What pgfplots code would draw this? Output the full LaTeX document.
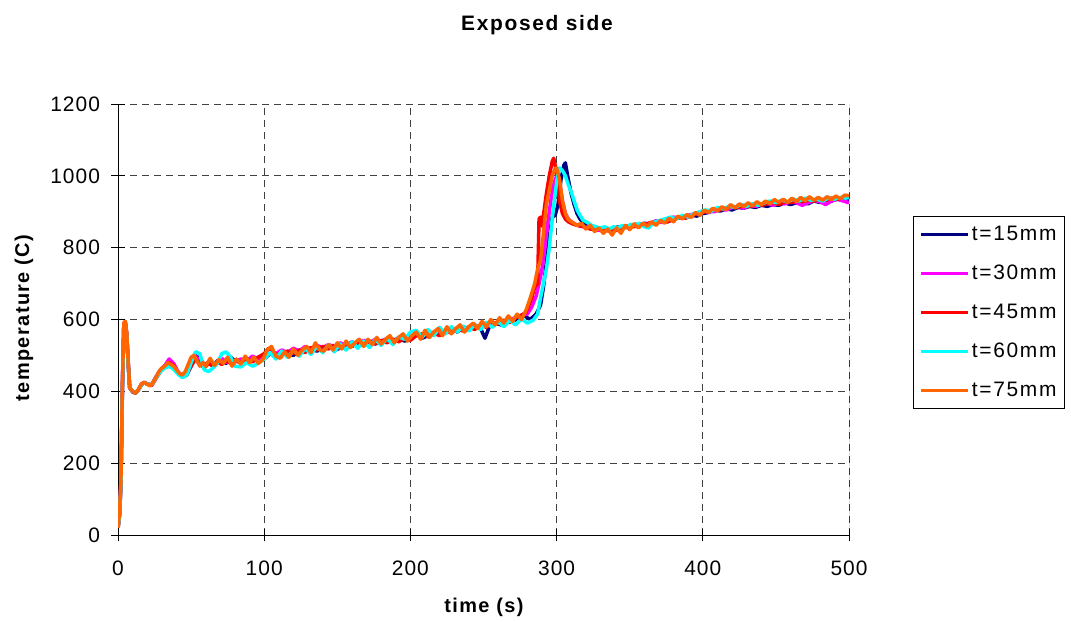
\documentclass[border=0pt]{standalone}
\usepackage{fontspec}
\setmainfont{Liberation Sans}
\usepackage{pgfplots}
\pgfplotsset{compat=1.18}
\definecolor{s15}{HTML}{000080}
\definecolor{s30}{HTML}{FF00FF}
\definecolor{s45}{HTML}{FF0000}
\definecolor{s60}{HTML}{00FFFF}
\definecolor{s75}{HTML}{FF6600}
\newcommand{\tickfont}{\fontsize{21}{25}\selectfont\addfontfeatures{LetterSpace=5}}
\begin{document}
\begin{tikzpicture}
\path[use as bounding box] (0,0) rectangle (1071bp,622bp);
\begin{axis}[at={(118bp,87bp)},anchor=south west,scale only axis,
  width=731bp,height=431bp,
  xmin=0,xmax=500,ymin=0,ymax=1200,
  xtick={0,100,...,500},ytick={0,200,...,1200},
  axis x line*=bottom,axis y line*=left,axis line style={-,black,line width=0.9bp},
  tick align=center,major tick length=13bp,tick style={black,line width=0.8bp},
  grid=major,major grid style={black!75,line width=0.8bp,dash pattern=on 7bp off 5bp},
  /pgf/number format/assume math mode=true,
  /pgf/number format/1000 sep={},
  tick label style={font=\tickfont},
  xticklabel style={yshift=-16bp},
  yticklabel style={xshift=-8bp},
  every axis plot/.append style={line width=3.5bp,line join=round},
  legend style={at={(1.0876,0.740)},anchor=north west,draw=black,line width=0.8bp,
    font=\fontsize{21}{25}\selectfont\addfontfeatures{LetterSpace=8},
    inner xsep=6bp,inner ysep=8bp,row sep=19bp,
    cells={anchor=west}},
  legend image code/.code={\draw[#1,line width=3.5bp] (0bp,0bp) -- (47bp,0bp);},
  legend cell align=left]
% t=15mm
\addplot[s15] coordinates {(0,20) (1,50) (2,140) (3,400) (4,585) (5,590) (6,555) (7,475) (8,410) (10,398) (12,395) (14,405) (16,418) (18,425) (20,420) (23,418) (26,440) (29,458) (32,468) (35,470) (38,465) (41,450) (44,440) (47,445) (50,470) (53,500) (56,490) (59,475) (62,480) (65,470) (68,485) (71,490) (74,478) (77,495) (80,485) (84,480) (88,492) (92,485) (96,495) (100,490) (104,505) (108,500) (112,510) (116,505) (120,500) (124,515) (128,510) (132,520) (136,512) (140,518) (144,525) (148,515) (152,520) (156,530) (160,525) (164,535) (168,528) (172,538) (176,532) (180,540) (184,545) (188,535) (192,548) (196,540) (200,545) (204,560) (208,548) (212,555) (216,565) (220,558) (224,568) (228,575) (232,565) (236,578) (240,572) (244,585) (248,575) (251,548) (254,580) (258,590) (262,585) (266,600) (270,595) (274,605) (278,610) (282,600) (286,615) (289,640) (291,690) (293,760) (295,830) (297,885) (299,890) (301,920) (303,990) (305,1030) (306,1036) (308,990) (310,950) (312,920) (314,895) (316,880) (318,870) (321,862) (324,858) (327,852) (330,848) (333,855) (336,850) (339,852) (342,858) (345,852) (348,860) (351,858) (354,865) (357,862) (360,868) (364,865) (368,870) (372,875) (376,872) (380,880) (384,885) (388,882) (392,890) (396,888) (400,895) (404,898) (408,905) (412,902) (416,908) (420,905) (424,912) (428,910) (432,915) (436,912) (440,918) (444,915) (448,920) (452,918) (456,925) (460,920) (464,925) (468,928) (472,922) (476,930) (480,926) (484,932) (488,930) (492,935) (496,932) (500,930)};
\addlegendentry{t=15mm}
% t=30mm
\addplot[s30] coordinates {(0,20) (1,55) (2,145) (3,410) (4,588) (5,592) (6,558) (7,478) (8,410) (10,400) (12,396) (14,404) (16,420) (18,424) (20,420) (23,417) (26,438) (29,460) (32,472) (35,490) (38,478) (41,455) (44,440) (47,448) (50,475) (53,498) (56,485) (59,470) (62,482) (65,475) (68,480) (71,492) (74,480) (77,488) (80,482) (84,490) (88,485) (92,498) (96,490) (100,500) (104,510) (108,505) (112,515) (116,508) (120,520) (124,512) (128,525) (132,518) (136,528) (140,522) (144,530) (148,525) (152,535) (156,528) (160,538) (164,530) (168,542) (172,535) (176,545) (180,538) (184,548) (188,540) (192,550) (196,545) (200,552) (204,558) (208,552) (212,568) (216,560) (220,570) (224,562) (228,575) (232,568) (236,580) (240,575) (244,585) (248,578) (252,590) (256,585) (260,595) (264,590) (268,600) (272,605) (276,612) (280,615) (283,635) (286,665) (288,700) (290,740) (292,800) (294,870) (296,930) (298,975) (300,1000) (302,985) (304,930) (306,895) (308,880) (310,872) (313,865) (316,860) (319,858) (322,855) (325,852) (328,848) (331,852) (334,848) (337,845) (340,852) (343,850) (346,858) (349,855) (352,862) (356,860) (360,866) (364,868) (368,875) (372,870) (376,880) (380,885) (384,882) (388,888) (392,892) (396,895) (400,898) (404,902) (408,900) (412,908) (416,905) (420,912) (424,915) (428,910) (432,918) (436,915) (440,920) (444,924) (448,918) (452,925) (456,922) (460,928) (464,925) (468,918) (472,925) (476,932) (480,928) (484,920) (488,930) (492,935) (496,930) (500,925)};
\addlegendentry{t=30mm}
% t=45mm
\addplot[s45] coordinates {(0,20) (1,55) (2,150) (3,415) (4,590) (5,594) (6,560) (7,478) (8,410) (10,400) (12,396) (14,404) (16,420) (18,425) (20,420) (23,416) (26,436) (29,455) (32,470) (35,480) (38,472) (41,452) (44,445) (47,450) (50,470) (53,490) (56,478) (59,465) (62,478) (65,470) (68,482) (71,475) (74,485) (77,478) (80,488) (84,480) (88,490) (92,482) (96,495) (100,505) (103,520) (106,510) (109,500) (112,505) (116,512) (120,505) (124,515) (128,508) (132,522) (136,515) (140,525) (144,518) (148,528) (152,520) (156,532) (160,525) (164,535) (168,528) (172,540) (176,532) (180,542) (184,535) (188,545) (192,538) (196,548) (200,542) (204,555) (208,560) (212,552) (216,562) (220,555) (224,570) (228,562) (232,575) (236,568) (240,580) (244,572) (248,585) (252,578) (256,592) (260,588) (264,598) (268,592) (272,605) (276,612) (279,620) (281,640) (283,660) (285,690) (287,700) (288,880) (289,885) (290,860) (291,890) (293,950) (295,1000) (297,1040) (298,1049) (300,1010) (302,930) (304,895) (306,880) (308,872) (311,866) (314,862) (317,860) (320,856) (323,852) (326,850) (329,855) (332,850) (335,848) (338,852) (341,848) (344,855) (347,858) (350,862) (353,858) (356,865) (360,862) (364,870) (368,868) (372,875) (376,872) (380,880) (384,885) (388,882) (392,890) (396,895) (400,898) (404,902) (408,908) (412,905) (416,910) (420,915) (424,912) (428,918) (432,915) (436,920) (440,918) (444,922) (448,925) (452,920) (456,928) (460,925) (464,930) (468,928) (472,932) (476,930) (480,935) (484,932) (488,938) (492,935) (496,940) (500,942)};
\addlegendentry{t=45mm}
% t=60mm
\addplot[s60] coordinates {(0,20) (1,50) (2,140) (3,405) (4,585) (5,590) (6,555) (7,475) (8,410) (10,400) (12,396) (14,404) (16,418) (18,424) (20,420) (23,418) (26,438) (29,455) (32,465) (35,470) (38,462) (41,448) (44,438) (47,445) (50,480) (53,510) (56,505) (59,460) (62,455) (65,465) (68,478) (71,505) (74,510) (77,495) (80,470) (84,468) (88,480) (92,470) (96,478) (100,490) (104,508) (108,490) (112,512) (116,495) (120,515) (124,498) (128,520) (132,503) (136,525) (140,508) (144,530) (148,510) (152,532) (156,515) (160,538) (164,520) (168,540) (172,522) (176,545) (180,528) (184,548) (188,530) (192,552) (196,545) (200,565) (204,570) (208,550) (212,572) (216,555) (220,578) (224,560) (228,580) (232,565) (236,582) (240,568) (244,586) (248,572) (252,592) (256,578) (260,594) (264,580) (268,598) (272,585) (276,602) (280,590) (284,598) (287,615) (289,660) (291,700) (293,740) (295,800) (297,880) (299,950) (301,1010) (302,1022) (304,1015) (306,1000) (308,975) (310,955) (312,930) (314,905) (316,890) (318,877) (321,870) (324,862) (327,858) (330,855) (333,858) (336,852) (339,858) (342,855) (345,862) (348,858) (351,865) (354,862) (357,868) (360,858) (363,855) (366,870) (370,875) (374,880) (378,885) (382,880) (386,890) (390,885) (394,895) (398,900) (402,905) (406,902) (410,912) (414,908) (418,915) (422,912) (426,920) (430,915) (434,922) (438,918) (442,925) (446,930) (450,925) (454,932) (458,928) (462,935) (466,930) (470,938) (474,932) (478,935) (482,930) (486,938) (490,935) (494,940) (498,938) (500,940)};
\addlegendentry{t=60mm}
% t=75mm
\addplot[s75] coordinates {(0,20) (1,60) (2,150) (3,420) (4,590) (5,595) (6,560) (7,480) (8,410) (10,400) (12,395) (14,405) (16,420) (18,425) (20,420) (22,415) (24,425) (26,440) (28,455) (30,465) (32,470) (34,480) (36,475) (38,470) (40,460) (42,450) (44,445) (46,455) (48,475) (50,495) (52,500) (54,485) (56,470) (58,480) (60,470) (63,492) (66,472) (69,488) (72,478) (75,495) (78,470) (81,490) (84,476) (87,498) (90,480) (93,495) (96,478) (99,488) (102,515) (105,525) (108,498) (111,492) (114,510) (117,495) (120,518) (123,500) (126,515) (129,525) (132,508) (135,535) (138,515) (141,512) (144,530) (147,515) (150,535) (153,518) (156,540) (159,522) (162,535) (165,545) (168,525) (171,545) (174,530) (177,550) (180,532) (183,545) (186,555) (189,535) (192,550) (195,560) (198,540) (201,555) (204,565) (207,545) (210,570) (213,550) (216,565) (219,575) (222,555) (225,580) (228,560) (231,575) (234,585) (237,565) (240,580) (243,590) (246,575) (249,595) (252,580) (255,600) (258,585) (261,605) (264,590) (267,610) (270,595) (273,615) (276,600) (279,625) (282,660) (285,700) (287,740) (289,765) (291,840) (293,920) (295,960) (297,1000) (299,1020) (300,1022) (302,990) (304,930) (306,895) (308,878) (311,870) (314,862) (317,868) (320,852) (323,862) (326,845) (329,855) (332,840) (335,852) (338,835) (341,855) (344,840) (347,862) (350,850) (353,866) (356,855) (359,868) (362,860) (365,872) (368,862) (371,876) (374,868) (377,882) (380,872) (383,888) (386,880) (389,892) (392,884) (395,898) (398,890) (401,904) (404,898) (407,910) (410,902) (413,914) (416,906) (419,920) (422,910) (425,922) (428,914) (431,925) (434,916) (437,928) (440,920) (443,930) (446,922) (449,934) (452,926) (455,935) (458,926) (461,938) (464,928) (467,940) (470,930) (473,942) (476,932) (479,940) (482,932) (485,942) (488,934) (491,944) (494,936) (497,946) (500,945)};
\addlegendentry{t=75mm}
\draw[black,line width=0.9bp] (rel axis cs:1,0) -- (rel axis cs:1,1);
\draw[black,line width=0.8bp] (rel axis cs:1,0) -- ++(0,-6.5bp);
\end{axis}
\node[font=\fontsize{21}{25}\selectfont\bfseries\addfontfeatures{LetterSpace=8}] at (537bp,597bp) {Exposed side};
\node[font=\fontsize{20}{24}\selectfont\bfseries\addfontfeatures{LetterSpace=7}] at (484bp,15bp) {time (s)};
\node[font=\fontsize{20}{24}\selectfont\bfseries\addfontfeatures{LetterSpace=7},rotate=90] at (24bp,304bp) {temperature (C)};
\end{tikzpicture}
\end{document}
